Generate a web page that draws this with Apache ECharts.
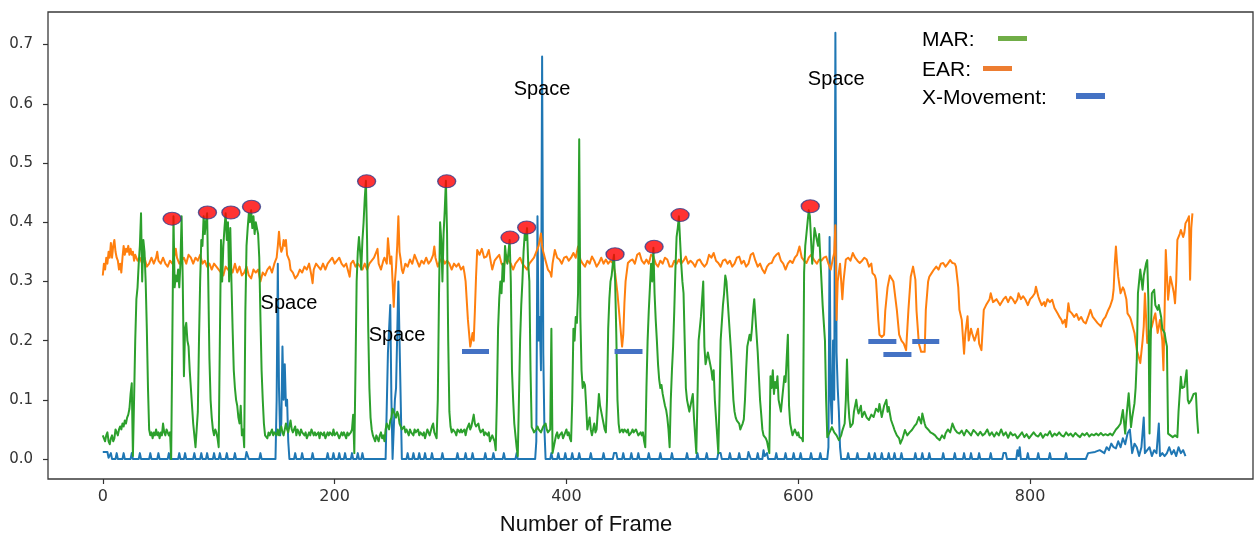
<!DOCTYPE html>
<html>
<head>
<meta charset="utf-8">
<title>MAR / EAR / X-Movement</title>
<script src="https://cdn.jsdelivr.net/npm/echarts@6/dist/echarts.min.js"></script>
<style>
  html, body { margin: 0; padding: 0; background: #fff; }
  #chart { width: 1255px; height: 538px; }
</style>
</head>
<body>
<div id="chart"></div>
<script>
// tick labels
const xTicks = [0, 200, 400, 600, 800];
const yTicks = [0, 0.1, 0.2, 0.3, 0.4, 0.5, 0.6, 0.7];

// MAR (mouth aspect ratio), [frame, value]
const marData = [[0,0.04],[1,0.035],[2,0.03],[3,0.04],[4,0.045],[5,0.03],[6,0.025],[7,0.035],[8,0.04],[9,0.03],[10,0.035],[11,0.05],[12,0.045],[13,0.04],[14,0.05],[15,0.055],[16,0.05],[17,0.06],[18,0.055],[19,0.065],[20,0.06],[21,0.07],[22,0.075],[23,0.085],[24,0.11],[25,0.128],[26,0.005],[27,0.1],[28,0.2],[29,0.27],[30,0.29],[31,0.33],[32,0.36],[33,0.415],[34,0.3],[35,0.37],[36,0.35],[37,0.3],[38,0.22],[39,0.12],[40,0.05],[41,0.04],[42,0.045],[43,0.035],[44,0.045],[45,0.04],[46,0.05],[47,0.04],[48,0.045],[49,0.035],[50,0.045],[51,0.04],[52,0.06],[53,0.045],[54,0.04],[55,0.05],[56,0.045],[57,0.04],[58,0.045],[59,0.0],[60,0.2],[61,0.41],[62,0.29],[63,0.31],[64,0.3],[65,0.32],[66,0.29],[67,0.33],[68,0.41],[69,0.3],[70,0.14],[71,0.22],[72,0.23],[73,0.2],[74,0.19],[75,0.15],[76,0.12],[77,0.09],[78,0.06],[79,0.04],[80,0.02],[81,0.05],[82,0.08],[83,0.2],[84,0.3],[85,0.37],[86,0.36],[87,0.41],[88,0.38],[89,0.4],[90,0.415],[91,0.3],[92,0.17],[93,0.1],[94,0.07],[95,0.05],[96,0.04],[97,0.05],[98,0.045],[99,0.035],[100,0.02],[101,0.2],[102,0.37],[103,0.3],[104,0.36],[105,0.39],[106,0.415],[107,0.37],[108,0.4],[109,0.3],[110,0.39],[111,0.3],[112,0.22],[113,0.15],[114,0.12],[115,0.1],[116,0.09],[117,0.07],[118,0.06],[119,0.09],[120,0.04],[121,0.05],[122,0.02],[123,0.25],[124,0.36],[125,0.39],[126,0.415],[127,0.4],[128,0.42],[129,0.39],[130,0.41],[131,0.38],[132,0.4],[133,0.39],[134,0.38],[135,0.34],[136,0.24],[137,0.15],[138,0.1],[139,0.06],[140,0.04],[142,0.035],[143,0.045],[144,0.04],[146,0.05],[147,0.04],[148,0.045],[150,0.04],[151,0.05],[152,0.04],[154,0.055],[155,0.045],[156,0.04],[158,0.06],[159,0.05],[160,0.045],[162,0.065],[163,0.05],[164,0.045],[166,0.055],[167,0.04],[168,0.05],[170,0.04],[171,0.05],[172,0.045],[174,0.04],[175,0.045],[176,0.035],[178,0.045],[179,0.04],[180,0.05],[182,0.04],[183,0.045],[184,0.04],[186,0.045],[187,0.035],[188,0.045],[190,0.04],[191,0.045],[192,0.035],[194,0.045],[195,0.04],[196,0.045],[198,0.04],[199,0.05],[200,0.04],[202,0.045],[203,0.04],[204,0.035],[206,0.045],[207,0.04],[208,0.045],[210,0.035],[211,0.045],[212,0.04],[214,0.045],[215,0.05],[216,0.075],[217,0.01],[218,0.15],[219,0.3],[220,0.35],[221,0.375],[222,0.35],[223,0.32],[224,0.37],[225,0.4],[226,0.44],[227,0.47],[228,0.37],[229,0.22],[230,0.12],[231,0.07],[232,0.05],[233,0.04],[234,0.035],[235,0.03],[236,0.04],[237,0.035],[238,0.03],[239,0.04],[240,0.045],[241,0.035],[242,0.04],[243,0.03],[244,0.05],[245,0.06],[246,0.055],[247,0.05],[248,0.065],[249,0.07],[250,0.085],[251,0.088],[252,0.075],[253,0.07],[254,0.08],[255,0.075],[256,0.06],[257,0.055],[258,0.05],[260,0.055],[261,0.045],[262,0.05],[264,0.04],[265,0.05],[266,0.045],[268,0.04],[269,0.05],[270,0.045],[272,0.05],[273,0.04],[274,0.045],[276,0.04],[277,0.045],[278,0.035],[280,0.05],[281,0.045],[282,0.04],[284,0.055],[285,0.06],[286,0.045],[287,0.04],[288,0.035],[289,0.1],[290,0.27],[291,0.4],[292,0.37],[293,0.3],[294,0.38],[295,0.42],[296,0.47],[297,0.38],[298,0.2],[299,0.08],[300,0.055],[301,0.045],[302,0.05],[304,0.045],[305,0.04],[306,0.05],[308,0.045],[309,0.05],[310,0.045],[312,0.05],[313,0.04],[314,0.05],[316,0.06],[317,0.05],[318,0.055],[320,0.075],[321,0.06],[322,0.055],[324,0.06],[325,0.05],[326,0.045],[328,0.05],[329,0.04],[330,0.045],[332,0.04],[333,0.045],[334,0.03],[336,0.04],[337,0.035],[338,0.03],[339,0.015],[340,0.1],[341,0.22],[342,0.27],[343,0.3],[344,0.28],[345,0.33],[346,0.3],[347,0.36],[348,0.34],[349,0.33],[350,0.35],[351,0.37],[352,0.3],[353,0.15],[354,0.1],[355,0.06],[356,0.04],[357,0.02],[358,0.005],[359,0.1],[360,0.2],[361,0.26],[362,0.3],[363,0.35],[364,0.38],[365,0.37],[366,0.39],[367,0.33],[368,0.3],[369,0.15],[370,0.054],[371,0.05],[372,0.045],[374,0.05],[375,0.055],[376,0.05],[378,0.045],[379,0.05],[380,0.055],[382,0.06],[383,0.05],[384,0.045],[386,0.05],[387,0.22],[388,0.01],[389,0.02],[390,0.03],[391,0.04],[392,0.045],[393,0.035],[394,0.04],[396,0.045],[397,0.035],[398,0.04],[400,0.05],[401,0.04],[402,0.045],[403,0.035],[404,0.03],[405,0.1],[406,0.22],[407,0.2],[408,0.24],[409,0.23],[410,0.28],[411,0.54],[412,0.24],[413,0.15],[414,0.12],[415,0.13],[416,0.125],[417,0.09],[418,0.05],[419,0.06],[420,0.07],[421,0.05],[422,0.04],[423,0.05],[424,0.06],[425,0.045],[426,0.05],[427,0.08],[428,0.11],[429,0.09],[430,0.08],[431,0.07],[432,0.06],[433,0.05],[434,0.045],[435,0.1],[436,0.22],[437,0.27],[438,0.3],[439,0.31],[440,0.33],[441,0.345],[442,0.3],[443,0.21],[444,0.1],[445,0.06],[446,0.045],[448,0.05],[449,0.045],[450,0.05],[452,0.045],[453,0.05],[454,0.04],[456,0.045],[457,0.05],[458,0.045],[460,0.05],[461,0.045],[462,0.04],[464,0.045],[465,0.04],[466,0.045],[467,0.03],[468,0.02],[469,0.12],[470,0.2],[471,0.25],[472,0.29],[473,0.33],[474,0.3],[475,0.357],[476,0.28],[477,0.235],[478,0.2],[479,0.16],[480,0.134],[481,0.12],[482,0.125],[483,0.11],[484,0.1],[485,0.09],[486,0.083],[487,0.07],[488,0.05],[489,0.02],[490,0.1],[491,0.15],[492,0.19],[493,0.25],[494,0.32],[495,0.375],[496,0.39],[497,0.41],[498,0.37],[499,0.33],[500,0.3],[501,0.28],[502,0.2],[503,0.12],[504,0.1],[505,0.09],[506,0.08],[507,0.09],[508,0.1],[509,0.11],[510,0.07],[511,0.04],[512,0.01],[513,0.1],[514,0.2],[515,0.22],[516,0.24],[517,0.27],[518,0.3],[519,0.19],[520,0.16],[521,0.17],[522,0.18],[523,0.18],[524,0.16],[525,0.15],[526,0.134],[527,0.15],[528,0.1],[529,0.07],[530,0.04],[531,0.01],[532,0.1],[533,0.2],[534,0.23],[535,0.26],[536,0.28],[537,0.31],[538,0.3],[539,0.27],[540,0.24],[541,0.21],[542,0.18],[543,0.14],[544,0.1],[545,0.08],[546,0.07],[547,0.065],[548,0.067],[549,0.06],[550,0.05],[551,0.055],[552,0.06],[553,0.067],[554,0.1],[555,0.15],[556,0.19],[557,0.2],[558,0.21],[559,0.2],[560,0.22],[561,0.25],[562,0.27],[563,0.24],[564,0.21],[565,0.18],[566,0.14],[567,0.1],[568,0.076],[569,0.05],[570,0.04],[572,0.035],[573,0.03],[574,0.02],[575,0.01],[576,0.14],[577,0.12],[578,0.15],[579,0.11],[580,0.13],[581,0.12],[582,0.14],[583,0.1],[584,0.09],[585,0.08],[586,0.1],[587,0.12],[588,0.14],[589,0.13],[590,0.17],[591,0.21],[592,0.09],[593,0.06],[594,0.05],[595,0.04],[596,0.045],[597,0.05],[598,0.05],[599,0.04],[600,0.045],[601,0.037],[602,0.04],[603,0.035],[604,0.03],[605,0.315],[606,0.36],[607,0.38],[608,0.4],[609,0.42],[610,0.41],[611,0.37],[612,0.33],[613,0.36],[614,0.39],[615,0.38],[616,0.37],[617,0.36],[618,0.38],[619,0.34],[620,0.3],[621,0.26],[622,0.23],[623,0.2],[624,0.1],[625,0.037],[627,0.045],[629,0.054],[631,0.045],[633,0.04],[635,0.032],[637,0.04],[638,0.048],[640,0.06],[641,0.1],[642,0.168],[643,0.1],[644,0.07],[645,0.054],[647,0.06],[648,0.08],[650,0.1],[651,0.085],[652,0.077],[654,0.09],[655,0.071],[657,0.08],[659,0.07],[661,0.066],[663,0.075],[665,0.071],[667,0.085],[669,0.08],[670,0.093],[672,0.071],[674,0.09],[676,0.1],[677,0.08],[678,0.088],[680,0.066],[682,0.055],[683,0.049],[685,0.04],[687,0.035],[688,0.026],[690,0.035],[692,0.049],[694,0.04],[696,0.045],[698,0.049],[700,0.055],[702,0.06],[704,0.071],[706,0.06],[707,0.077],[709,0.06],[710,0.054],[712,0.05],[714,0.045],[716,0.043],[718,0.04],[720,0.035],[722,0.032],[724,0.04],[726,0.035],[727,0.043],[729,0.05],[731,0.045],[733,0.06],[735,0.05],[737,0.045],[739,0.043],[741,0.048],[743,0.04],[745,0.049],[747,0.045],[749,0.04],[751,0.049],[753,0.045],[755,0.04],[757,0.046],[759,0.04],[761,0.043],[763,0.05],[765,0.04],[767,0.045],[769,0.038],[771,0.045],[773,0.04],[775,0.05],[777,0.04],[779,0.045],[781,0.036],[783,0.045],[785,0.04],[787,0.042],[789,0.035],[791,0.04],[793,0.045],[795,0.037],[797,0.042],[799,0.035],[801,0.04],[803,0.045],[805,0.04],[807,0.038],[809,0.044],[811,0.036],[813,0.042],[815,0.04],[817,0.047],[819,0.038],[821,0.043],[823,0.04],[825,0.045],[827,0.04],[829,0.038],[831,0.045],[833,0.04],[835,0.043],[837,0.038],[839,0.044],[841,0.04],[843,0.037],[845,0.043],[847,0.04],[849,0.044],[851,0.038],[853,0.042],[855,0.04],[857,0.043],[859,0.04],[861,0.044],[863,0.04],[865,0.042],[867,0.04],[869,0.043],[871,0.04],[872,0.043],[874,0.05],[876,0.054],[878,0.06],[880,0.083],[882,0.043],[883,0.07],[885,0.111],[887,0.054],[888,0.07],[890,0.094],[891,0.12],[892,0.167],[893,0.28],[894,0.3],[895,0.32],[897,0.286],[898,0.31],[900,0.33],[901,0.336],[902,0.27],[903,0.043],[904,0.2],[905,0.28],[907,0.286],[908,0.26],[910,0.252],[911,0.26],[913,0.24],[914,0.22],[916,0.213],[917,0.2],[918,0.19],[919,0.043],[921,0.04],[923,0.037],[925,0.04],[927,0.037],[928,0.08],[930,0.139],[931,0.12],[933,0.122],[935,0.15],[936,0.1],[937,0.094],[939,0.1],[941,0.11],[943,0.111],[944,0.07],[945,0.043]];

// EAR (eye aspect ratio), [frame, value]
const earData = [[0,0.31],[1,0.33],[2,0.32],[3,0.34],[4,0.33],[5,0.35],[6,0.34],[7,0.365],[8,0.34],[9,0.36],[10,0.37],[11,0.35],[12,0.34],[13,0.335],[14,0.32],[15,0.33],[16,0.315],[17,0.34],[18,0.36],[19,0.345],[20,0.355],[21,0.35],[22,0.36],[23,0.345],[24,0.355],[25,0.345],[26,0.35],[27,0.335],[28,0.345],[30,0.335],[32,0.34],[34,0.33],[36,0.34],[38,0.325],[40,0.33],[42,0.34],[44,0.33],[46,0.34],[47,0.35],[48,0.335],[50,0.33],[52,0.34],[54,0.33],[56,0.325],[58,0.335],[60,0.33],[62,0.345],[63,0.355],[64,0.34],[66,0.33],[68,0.335],[70,0.34],[72,0.33],[74,0.345],[76,0.34],[78,0.33],[80,0.34],[82,0.335],[84,0.345],[86,0.33],[88,0.335],[90,0.325],[92,0.33],[94,0.32],[96,0.33],[98,0.325],[100,0.32],[102,0.315],[104,0.31],[106,0.325],[108,0.32],[110,0.325],[112,0.315],[114,0.33],[116,0.315],[118,0.325],[120,0.31],[122,0.315],[124,0.325],[126,0.31],[128,0.305],[130,0.32],[132,0.315],[134,0.32],[136,0.3],[138,0.315],[140,0.31],[142,0.32],[144,0.325],[146,0.315],[148,0.33],[150,0.34],[151,0.36],[152,0.384],[153,0.36],[154,0.35],[155,0.355],[156,0.37],[157,0.36],[158,0.37],[159,0.345],[160,0.34],[161,0.335],[162,0.32],[164,0.315],[166,0.305],[168,0.31],[170,0.32],[172,0.315],[174,0.325],[176,0.32],[178,0.33],[180,0.31],[181,0.297],[182,0.32],[184,0.33],[186,0.325],[188,0.32],[190,0.33],[192,0.32],[194,0.33],[196,0.335],[198,0.34],[200,0.33],[202,0.335],[204,0.34],[206,0.33],[208,0.325],[210,0.33],[212,0.315],[213,0.308],[214,0.33],[216,0.335],[218,0.325],[220,0.33],[222,0.325],[224,0.32],[226,0.33],[228,0.32],[230,0.33],[232,0.335],[234,0.34],[236,0.35],[237,0.355],[238,0.33],[240,0.32],[242,0.335],[243,0.34],[245,0.33],[246,0.373],[247,0.35],[248,0.33],[249,0.342],[250,0.3],[251,0.257],[252,0.3],[253,0.325],[254,0.36],[255,0.41],[256,0.35],[257,0.337],[258,0.32],[259,0.314],[261,0.33],[263,0.325],[265,0.337],[267,0.33],[269,0.345],[271,0.335],[273,0.325],[275,0.335],[277,0.33],[279,0.34],[281,0.33],[283,0.335],[285,0.345],[286,0.359],[287,0.34],[289,0.325],[291,0.335],[293,0.34],[295,0.33],[297,0.335],[299,0.33],[301,0.32],[303,0.33],[305,0.325],[307,0.33],[309,0.32],[311,0.325],[312,0.314],[313,0.3],[315,0.235],[317,0.19],[318,0.2],[319,0.213],[320,0.2],[321,0.25],[322,0.308],[323,0.353],[325,0.345],[327,0.355],[329,0.34],[331,0.342],[333,0.353],[335,0.33],[336,0.32],[338,0.335],[340,0.34],[342,0.345],[344,0.33],[346,0.325],[348,0.345],[350,0.335],[352,0.33],[354,0.32],[356,0.33],[358,0.335],[360,0.34],[362,0.33],[364,0.325],[366,0.32],[368,0.33],[370,0.335],[372,0.34],[374,0.35],[375,0.353],[376,0.36],[377,0.37],[378,0.381],[379,0.36],[380,0.35],[381,0.348],[382,0.335],[384,0.32],[386,0.315],[387,0.308],[388,0.33],[390,0.353],[392,0.34],[394,0.337],[396,0.33],[398,0.34],[400,0.342],[402,0.335],[404,0.34],[406,0.348],[408,0.34],[410,0.359],[412,0.337],[414,0.33],[416,0.325],[418,0.335],[420,0.33],[422,0.342],[424,0.335],[426,0.325],[428,0.331],[430,0.34],[432,0.33],[434,0.337],[436,0.33],[438,0.335],[440,0.331],[442,0.314],[444,0.28],[446,0.235],[448,0.19],[449,0.21],[450,0.263],[451,0.3],[453,0.331],[455,0.335],[457,0.337],[459,0.33],[461,0.345],[463,0.348],[465,0.335],[467,0.33],[469,0.337],[471,0.33],[473,0.345],[475,0.342],[477,0.33],[479,0.325],[481,0.335],[483,0.33],[485,0.34],[487,0.337],[489,0.325],[491,0.325],[493,0.335],[495,0.33],[497,0.337],[499,0.33],[501,0.335],[503,0.342],[505,0.33],[507,0.335],[509,0.331],[511,0.325],[513,0.335],[515,0.337],[517,0.33],[519,0.325],[521,0.33],[523,0.345],[525,0.34],[527,0.348],[529,0.335],[531,0.331],[533,0.325],[535,0.335],[537,0.337],[539,0.33],[541,0.335],[543,0.325],[545,0.33],[547,0.34],[549,0.342],[551,0.33],[553,0.335],[555,0.325],[557,0.33],[559,0.345],[561,0.348],[563,0.335],[565,0.325],[567,0.33],[569,0.32],[571,0.314],[573,0.325],[575,0.33],[577,0.331],[579,0.34],[581,0.345],[583,0.348],[585,0.335],[587,0.33],[589,0.32],[591,0.33],[593,0.335],[595,0.331],[597,0.34],[599,0.345],[601,0.359],[603,0.34],[605,0.335],[607,0.331],[609,0.34],[611,0.345],[612,0.348],[614,0.335],[616,0.33],[618,0.337],[620,0.335],[622,0.34],[624,0.342],[626,0.33],[628,0.32],[630,0.34],[631,0.348],[632,0.395],[633,0.235],[634,0.3],[636,0.33],[638,0.27],[639,0.3],[641,0.337],[643,0.34],[645,0.335],[647,0.348],[649,0.34],[651,0.335],[653,0.331],[655,0.335],[657,0.34],[659,0.337],[661,0.325],[663,0.33],[664,0.314],[666,0.31],[667,0.303],[668,0.27],[669,0.235],[670,0.21],[672,0.206],[674,0.21],[675,0.25],[677,0.29],[679,0.31],[680,0.313],[682,0.3],[683,0.297],[685,0.252],[687,0.21],[689,0.2],[691,0.195],[693,0.184],[695,0.252],[697,0.308],[699,0.325],[701,0.303],[702,0.25],[704,0.195],[706,0.181],[709,0.181],[710,0.252],[712,0.3],[713,0.308],[715,0.314],[717,0.32],[719,0.325],[721,0.32],[723,0.33],[725,0.331],[727,0.325],[729,0.33],[731,0.336],[733,0.331],[735,0.33],[736,0.325],[738,0.29],[739,0.252],[741,0.235],[743,0.178],[744,0.21],[746,0.241],[747,0.2],[749,0.22],[750,0.212],[752,0.2],[753,0.206],[755,0.22],[756,0.195],[758,0.184],[760,0.252],[762,0.26],[763,0.263],[765,0.27],[766,0.28],[768,0.265],[769,0.263],[771,0.27],[772,0.269],[774,0.26],[775,0.263],[777,0.27],[779,0.274],[781,0.265],[783,0.274],[785,0.27],[787,0.263],[789,0.27],[790,0.28],[792,0.27],[794,0.275],[796,0.269],[798,0.26],[800,0.27],[802,0.274],[804,0.28],[805,0.291],[807,0.275],[808,0.269],[810,0.26],[812,0.265],[813,0.258],[815,0.27],[817,0.265],[819,0.269],[821,0.255],[822,0.252],[824,0.245],[825,0.241],[827,0.235],[828,0.229],[830,0.235],[831,0.223],[833,0.263],[834,0.25],[836,0.246],[838,0.24],[840,0.245],[842,0.235],[844,0.24],[846,0.232],[848,0.229],[850,0.24],[852,0.252],[854,0.24],[856,0.235],[858,0.23],[861,0.224],[863,0.235],[865,0.24],[867,0.25],[869,0.258],[871,0.27],[872,0.286],[873,0.33],[874,0.359],[875,0.33],[876,0.308],[878,0.28],[880,0.29],[881,0.286],[883,0.27],[884,0.246],[886,0.24],[887,0.235],[889,0.22],[890,0.213],[892,0.184],[894,0.17],[895,0.162],[897,0.2],[898,0.224],[899,0.28],[900,0.24],[901,0.196],[903,0.213],[905,0.224],[907,0.24],[908,0.246],[910,0.213],[912,0.235],[914,0.2],[915,0.15],[916,0.25],[917,0.353],[919,0.269],[921,0.308],[923,0.29],[924,0.28],[925,0.263],[926,0.3],[927,0.37],[929,0.38],[930,0.387],[932,0.375],[933,0.382],[934,0.398],[936,0.405],[937,0.41],[938,0.303],[939,0.39],[940,0.415]];

// X-Movement, [frame, value]
const xMoveData = [[0,0.012],[4,0.012],[5,0.002],[7,0.01],[8,0],[11,0],[12,0.01],[13,0],[17,0],[18,0.01],[19,0],[24,0],[25,0.01],[26,0],[31,0],[32,0.01],[33,0],[40,0],[41,0.01],[42,0],[47,0],[48,0.01],[49,0],[56,0],[57,0.01],[58,0],[65,0],[66,0.01],[67,0],[70,0],[71,0.01],[72,0],[78,0],[79,0.01],[80,0],[84,0],[85,0.01],[86,0],[89,0],[90,0.01],[91,0],[95,0],[96,0.01],[97,0],[100,0],[101,0.01],[102,0],[106,0],[107,0.01],[108,0],[113,0],[114,0.01],[115,0],[123,0],[124,0.012],[126,0],[135,0],[136,0.01],[137,0],[149,0],[150,0.1],[151,0.33],[152,0.12],[153,0.04],[154,0.06],[155,0.19],[156,0.1],[157,0.16],[158,0.09],[159,0.1],[160,0.03],[161,0],[165,0],[166,0.01],[167,0],[171,0],[172,0.01],[173,0],[180,0],[181,0.01],[182,0],[193,0],[194,0.01],[195,0],[198,0],[199,0.01],[200,0],[203,0],[204,0.01],[205,0],[208,0],[209,0.01],[210,0],[214,0],[215,0.01],[216,0],[219,0],[220,0.01],[221,0],[223,0],[224,0.01],[225,0],[244,0],[246,0.18],[248,0.26],[249,0.1],[250,0],[252,0.1],[253,0.12],[255,0.3],[256,0.2],[258,0],[262,0],[263,0.01],[264,0],[267,0],[268,0.01],[269,0],[272,0],[273,0.01],[274,0],[277,0],[278,0.01],[279,0],[283,0],[284,0.01],[285,0],[292,0],[293,0.01],[294,0],[305,0],[306,0.01],[307,0],[312,0],[313,0.01],[314,0],[318,0],[319,0.01],[320,0],[329,0],[330,0.01],[331,0],[336,0],[337,0.01],[338,0],[345,0],[346,0.01],[347,0],[356,0],[357,0.01],[358,0],[373,0],[374,0.03],[375,0.41],[376,0.2],[377,0.24],[378,0.15],[379,0.68],[380,0.18],[381,0.05],[382,0],[386,0],[387,0.01],[388,0],[392,0],[393,0.01],[394,0],[398,0],[399,0.01],[400,0],[404,0],[405,0.01],[406,0],[410,0],[411,0.01],[412,0],[420,0],[421,0.01],[422,0],[431,0],[432,0.01],[433,0],[440,0],[441,0.01],[443,0.01],[444,0],[448,0],[449,0.01],[450,0],[455,0],[456,0.01],[457,0],[461,0],[462,0.01],[463,0],[470,0],[471,0.01],[472,0],[480,0],[481,0.01],[482,0],[490,0],[491,0.01],[492,0],[503,0],[504,0.01],[505,0],[512,0],[513,0.01],[514,0],[520,0],[521,0.01],[522,0],[530,0],[531,0.01],[533,0.01],[534,0],[540,0],[541,0.01],[542,0],[548,0],[549,0.01],[550,0],[556,0],[557,0.012],[559,0],[564,0],[565,0.01],[566,0],[569,0],[570,0.015],[571,0.005],[573,0.01],[574,0],[580,0],[581,0.01],[582,0],[588,0],[589,0.01],[590,0],[595,0],[596,0.01],[597,0],[601,0],[602,0.01],[603,0],[610,0],[611,0.01],[612,0],[618,0],[619,0.01],[620,0],[625,0],[626,0.02],[627,0.375],[628,0.1],[629,0.06],[630,0.2],[631,0.1],[632,0.72],[633,0.18],[634,0.12],[635,0.08],[636,0.02],[637,0],[642,0],[643,0.01],[644,0],[650,0],[651,0.01],[652,0],[660,0],[661,0.01],[662,0],[665,0],[666,0.01],[667,0],[671,0],[672,0.01],[673,0],[677,0],[678,0.01],[679,0],[682,0],[683,0.01],[684,0],[688,0],[689,0.01],[690,0],[700,0],[701,0.01],[702,0],[706,0],[707,0.01],[708,0],[712,0],[713,0.01],[714,0],[724,0],[725,0.01],[726,0],[734,0],[735,0.01],[736,0],[742,0],[743,0.01],[744,0],[748,0],[749,0.01],[750,0],[755,0],[756,0.01],[757,0],[765,0],[766,0.01],[767,0],[776,0],[777,0.01],[779,0.01],[780,0],[788,0],[789,0.015],[790,0.005],[791,0.02],[792,0],[797,0],[798,0.01],[799,0],[806,0],[807,0.01],[808,0],[816,0],[817,0.01],[818,0],[830,0],[831,0.01],[832,0],[848,0],[850,0.01],[856,0.012],[860,0.015],[864,0.01],[866,0.02],[868,0.015],[870,0.026],[872,0.02],[874,0.018],[876,0.03],[878,0.02],[880,0.035],[882,0.025],[884,0.043],[886,0.05],[888,0.01],[890,0.026],[892,0.02],[894,0.005],[896,0.02],[898,0.07],[899,0.01],[901,0.015],[903,0.02],[905,0.005],[907,0.015],[909,0.01],[911,0.06],[912,0.005],[914,0.01],[916,0.005],[918,0.01],[920,0.02],[922,0.008],[924,0.015],[926,0.005],[928,0.02],[930,0.01],[932,0.015],[934,0.005]];

// red markers on yawn peaks
const yawnPeaks = [[59.8,0.406],[90.3,0.4165],[110.5,0.4165],[128.3,0.426],[227.6,0.469],[296.7,0.469],[351.3,0.374],[365.7,0.391],[441.9,0.346],[475.6,0.3585],[498,0.412],[610.3,0.427]];

// "Space" notes
const spaceNotes = [[160.6,0.262],[253.8,0.209],[378.9,0.624],[632.7,0.641]];

// blink marks under EAR dips: [fromFrame, toFrame, value]
const blinkBars = [[309.9,333.2,0.182],[441.5,465.6,0.182],[660.4,684.6,0.199],[673.4,697.6,0.177],[698.3,721.6,0.199]];

const chart = echarts.init(document.getElementById('chart'));

const tickFont = 'DejaVu Sans';
const noteFont = 'Liberation Sans';

const option = {
  animation: false,
  backgroundColor: '#ffffff',
  grid: {
    left: 48, right: 2, top: 12, bottom: 59,
    show: true,
    borderColor: '#3a3a3a',
    borderWidth: 1.3,
    containLabel: false,
    outerBoundsMode: 'none'
  },
  xAxis: {
    type: 'value',
    min: -47.25,
    max: 992.25,
    axisLine: { show: false, onZero: false },
    axisTick: { show: true, length: 5, customValues: xTicks, lineStyle: { color: '#333', width: 1.2 } },
    axisLabel: {
      customValues: xTicks,
      margin: 10,
      color: '#333',
      fontSize: 16,
      fontFamily: tickFont
    },
    splitLine: { show: false }
  },
  yAxis: {
    type: 'value',
    min: -0.0337,
    max: 0.755,
    axisLine: { show: false, onZero: false },
    axisTick: { show: true, length: 5, customValues: yTicks, lineStyle: { color: '#333', width: 1.2 } },
    axisLabel: {
      customValues: yTicks,
      margin: 15,
      color: '#333',
      fontSize: 15,
      fontFamily: tickFont,
      formatter: function (v) { return v.toFixed(1); }
    },
    splitLine: { show: false }
  },
  series: [
    {
      name: 'X-Movement',
      type: 'line',
      data: xMoveData,
      symbol: 'none',
      lineStyle: { color: '#1f77b4', width: 2, join: 'round' },
      itemStyle: { color: '#1f77b4' },
      z: 2
    },
    {
      name: 'EAR',
      type: 'line',
      data: earData,
      symbol: 'none',
      lineStyle: { color: '#ff7f0e', width: 2, join: 'round' },
      itemStyle: { color: '#ff7f0e' },
      z: 3,
      markLine: {
        silent: true,
        symbol: ['none', 'none'],
        label: { show: false },
        lineStyle: { color: '#4472c4', width: 5, type: 'solid', cap: 'butt' },
        data: blinkBars.map(b => [{ coord: [b[0], b[2]] }, { coord: [b[1], b[2]] }])
      }
    },
    {
      name: 'MAR',
      type: 'line',
      data: marData,
      symbol: 'none',
      lineStyle: { color: '#2ca02c', width: 2, join: 'round' },
      itemStyle: { color: '#2ca02c' },
      z: 4
    },
    {
      name: 'Yawn',
      type: 'scatter',
      data: yawnPeaks,
      symbol: 'circle',
      symbolSize: [18, 13],
      itemStyle: { color: '#ff0000', borderColor: '#2f3e8c', borderWidth: 1.2 },
      z: 10
    },
    {
      name: 'Notes',
      type: 'scatter',
      data: spaceNotes,
      symbolSize: 1,
      itemStyle: { color: 'transparent' },
      label: {
        show: true,
        position: 'inside',
        formatter: 'Space',
        color: '#000000',
        opacity: 1,
        textBorderWidth: 0,
        textBorderColor: 'transparent',
        fontSize: 20,
        fontFamily: noteFont
      },
      z: 11
    }
  ],
  graphic: [
    // x axis title
    { type: 'text', x: 586, y: 525, style: { text: 'Number of Frame', font: '22px "Liberation Sans"', fill: '#111', textAlign: 'center', textVerticalAlign: 'middle' } },
    // hand-made legend
    { type: 'text', x: 922, y: 40, style: { text: 'MAR:', font: '21px "Liberation Sans"', fill: '#000', textAlign: 'left', textVerticalAlign: 'middle' } },
    { type: 'rect', shape: { x: 998, y: 36, width: 29, height: 5 }, style: { fill: '#70ad47' } },
    { type: 'text', x: 922, y: 70, style: { text: 'EAR:', font: '21px "Liberation Sans"', fill: '#000', textAlign: 'left', textVerticalAlign: 'middle' } },
    { type: 'rect', shape: { x: 983, y: 66, width: 29, height: 5 }, style: { fill: '#ed7d31' } },
    { type: 'text', x: 922, y: 98, style: { text: 'X-Movement:', font: '21px "Liberation Sans"', fill: '#000', textAlign: 'left', textVerticalAlign: 'middle' } },
    { type: 'rect', shape: { x: 1076, y: 93, width: 29, height: 6 }, style: { fill: '#4472c4' } }
  ]
};

chart.setOption(option);
</script>
</body>
</html>
